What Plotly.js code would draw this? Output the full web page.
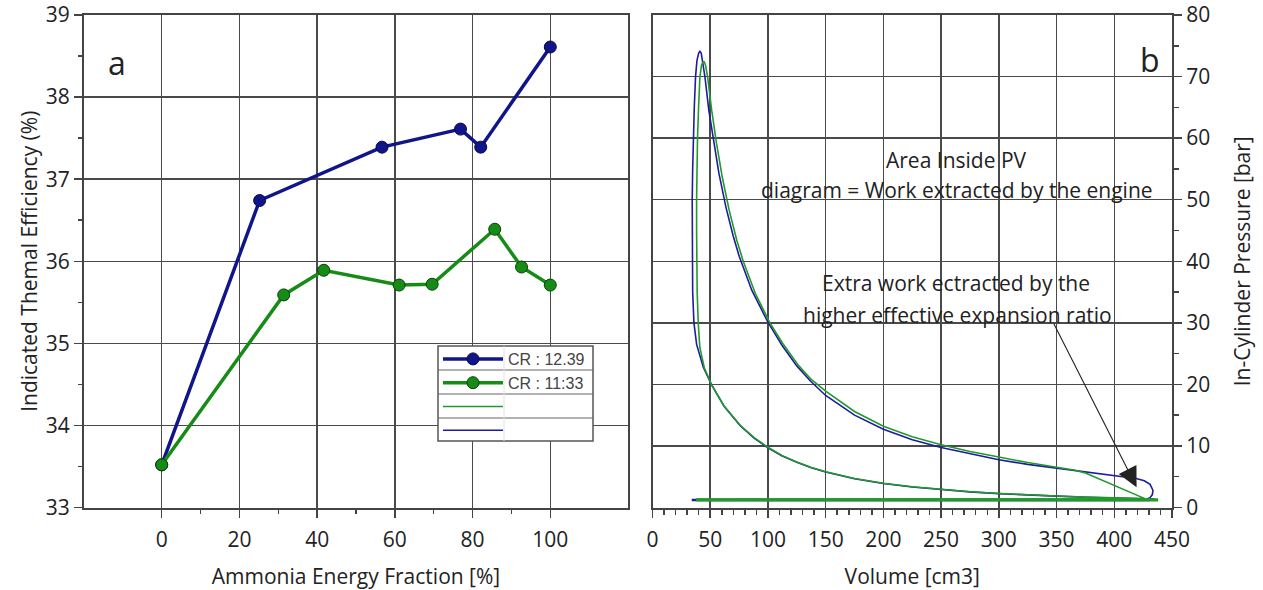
<!DOCTYPE html>
<html><head><meta charset="utf-8">
<script src="https://cdn.plot.ly/plotly-3.0.1.min.js"></script>
<style>html,body{margin:0;padding:0;background:#fff}#chart{width:1263px;height:590px}</style>
</head><body><div id="chart"></div>
<script>
// ---- Panel a: indicated thermal efficiency vs ammonia energy fraction ----
const seriesNames = ['CR : 12.39', 'CR : 11:33'];
const aefBlue = [0, 25.2, 56.7, 76.9, 82.1, 100];
const iteBlue = [33.52, 36.74, 37.39, 37.61, 37.39, 38.61];
const aefGreen = [0, 31.4, 41.7, 61.1, 69.6, 85.7, 92.6, 100];
const iteGreen = [33.52, 35.59, 35.89, 35.71, 35.72, 36.39, 35.93, 35.71];
const aefTicks = [0, 20, 40, 60, 80, 100];

// ---- Panel b: PV diagram (volume cm3, pressure bar) ----
const volBlue = [34, 430, 430, 420, 400, 375, 350, 325, 300, 275, 250, 225, 200, 175, 150, 137, 125, 112, 100, 88, 76, 62, 51, 44, 38.2, 35.9, 34.8, 34.5, 34.3, 34.4, 34.8, 35.3, 36.2, 37.3, 38.5, 40, 41, 42.2, 43.5, 45.4, 48.8, 52.6, 57.5, 63.6, 69.9, 75.1, 86, 100, 112, 125, 137, 150, 175, 200, 225, 250, 275, 300, 325, 350, 379, 399, 419, 426, 431, 433.5, 433, 431, 428, 420, 34];
const presBlue = [1.15, 1.15, 1.39, 1.43, 1.53, 1.67, 1.84, 2.03, 2.26, 2.54, 2.89, 3.33, 3.9, 4.67, 5.75, 6.5, 7.33, 8.4, 9.69, 11.26, 13.27, 16.43, 20, 22.8, 26.5, 30, 35, 40, 45, 50, 55, 60, 65, 70, 72.6, 73.8, 74.1, 73.8, 72.5, 70, 64.5, 59.8, 54.3, 48.8, 44.1, 40.8, 35.3, 30.1, 26.4, 23.0, 20.5, 18.2, 15.0, 12.7, 11.0, 9.75, 8.7, 7.75, 7.0, 6.4, 5.75, 5.25, 4.7, 4.35, 3.75, 2.8, 2.1, 1.6, 1.4, 1.3, 1.3];
const volGreen = [38, 434, 434, 420, 400, 375, 350, 325, 300, 275, 250, 225, 200, 175, 150, 137, 125, 112, 100, 88, 76, 62, 51, 45, 41, 39.6, 38.7, 38.3, 38.2, 38.2, 38.5, 39, 39.9, 41.1, 42.5, 44, 44.8, 46, 47.7, 51.3, 55.5, 60.5, 66.4, 73, 78.6, 89, 101.7, 113, 126, 137, 150, 175, 200, 225, 250, 275, 300, 325, 350, 365, 375, 387, 399, 410, 422, 427, 38];
const presGreen = [1.2, 1.2, 1.4, 1.45, 1.55, 1.69, 1.86, 2.05, 2.28, 2.56, 2.91, 3.36, 3.93, 4.71, 5.8, 6.55, 7.4, 8.47, 9.78, 11.35, 13.35, 16.5, 20, 22.6, 26, 30, 35, 40, 45, 50, 55, 60, 65, 70, 71.9, 72.4, 72.4, 71.8, 70, 64.5, 59.1, 53.6, 48.3, 43.4, 40.0, 34.8, 30, 26.6, 23.2, 20.9, 18.9, 15.6, 13.2, 11.5, 10.2, 9.1, 8.2, 7.3, 6.55, 6.1, 5.6, 4.6, 3.6, 2.7, 1.7, 1.4, 1.35];
const volGreenGas = [38, 438];
const presGreenGas = [1.25, 1.25];

const BLUE = '#10168a', GREEN = '#168c16', BLUE2 = '#1c1ca0', GREEN2 = '#22992a';
const FONT = 'Open Sans, Noto Sans, sans-serif';
const W = 1263, H = 590;
const px = v => v / W, py = v => 1 - v / H;

const traces = [
  {x: aefBlue, y: iteBlue, name: seriesNames[0], mode: 'lines+markers', xaxis: 'x', yaxis: 'y',
   line: {color: BLUE, width: 3.5}, marker: {size: 12, color: BLUE, line: {color: '#0a0a40', width: 1}}, legendrank: 1},
  {x: aefGreen, y: iteGreen, name: seriesNames[1], mode: 'lines+markers', xaxis: 'x', yaxis: 'y',
   line: {color: GREEN, width: 3.5}, marker: {size: 12, color: GREEN, line: {color: '#0a400a', width: 1}}, legendrank: 2},
  {x: volBlue, y: presBlue, name: ' ', mode: 'lines', xaxis: 'x2', yaxis: 'y2',
   line: {color: BLUE2, width: 1.6}, legendrank: 4},
  {x: volGreen, y: presGreen, name: ' ', mode: 'lines', xaxis: 'x2', yaxis: 'y2',
   line: {color: GREEN2, width: 1.6}, legendrank: 3},
  {x: volGreenGas, y: presGreenGas, mode: 'lines', xaxis: 'x2', yaxis: 'y2', showlegend: false,
   line: {color: GREEN2, width: 3.2}}
];

const axCommon = {
  showline: true, linecolor: '#444', linewidth: 2, mirror: true,
  showgrid: true, gridcolor: '#4a4a4a', gridwidth: 1.5, zeroline: false,
  ticks: 'outside', ticklen: 8, tickwidth: 1.5, tickcolor: '#444',
  tickfont: {family: FONT, size: 21, color: '#222'}
};
const titleFont = {family: FONT, size: 21, color: '#222'};

const layout = {
  width: W, height: H, margin: {l: 0, r: 0, t: 0, b: 0, pad: 0},
  paper_bgcolor: '#fff', plot_bgcolor: '#fff', showlegend: true,
  xaxis: Object.assign({}, axCommon, {domain: [px(84), px(628)], range: [-20, 120], tickvals: aefTicks, ticklabelstandoff: 4,
    minor: {tickvals: [10, 30, 50, 70, 90], ticks: 'outside', ticklen: 4, tickcolor: '#444', showgrid: false},
    title: {text: 'Ammonia Energy Fraction [%]', font: titleFont, standoff: 18}}),
  yaxis: Object.assign({}, axCommon, {domain: [py(507.5), py(15)], range: [33, 39], dtick: 1,
    minor: {dtick: 0.5, ticks: 'outside', ticklen: 4, tickcolor: '#444', showgrid: false},
    title: {text: 'Indicated Themal Efficiency (%)', font: titleFont, standoff: 2}}),
  xaxis2: Object.assign({}, axCommon, {anchor: 'y2', domain: [px(652.5), px(1172)], range: [0, 450], dtick: 50, ticklabelstandoff: 4,
    minor: {dtick: 10, ticks: 'outside', ticklen: 5, tickcolor: '#444', showgrid: false},
    title: {text: 'Volume [cm3]', font: titleFont, standoff: 18}}),
  yaxis2: Object.assign({}, axCommon, {anchor: 'x2', side: 'right', domain: [py(507.5), py(15)], range: [0, 80], dtick: 10,
    minor: {dtick: 5, ticks: 'outside', ticklen: 5, tickcolor: '#444', showgrid: false},
    title: {text: 'In-Cylinder Pressure [bar]', font: titleFont, standoff: 26}}),
  legend: {x: px(438), y: py(342), xanchor: 'left', yanchor: 'top', bgcolor: 'rgba(0,0,0,0)', borderwidth: 0,
    font: {family: 'Liberation Sans, Arial, sans-serif', size: 16, color: '#444'}, itemwidth: 60, tracegroupgap: 0},
  shapes: [
    {type: 'rect', xref: 'paper', yref: 'paper', x0: px(438), x1: px(593), y0: py(441), y1: py(346),
     fillcolor: '#fff', line: {color: '#555', width: 1.5}, layer: 'above'},
    {type: 'line', xref: 'paper', yref: 'paper', x0: px(438), x1: px(593), y0: py(370), y1: py(370), line: {color: '#666', width: 1.2}, layer: 'above'},
    {type: 'line', xref: 'paper', yref: 'paper', x0: px(438), x1: px(593), y0: py(394), y1: py(394), line: {color: '#666', width: 1.2}, layer: 'above'},
    {type: 'line', xref: 'paper', yref: 'paper', x0: px(438), x1: px(593), y0: py(418), y1: py(418), line: {color: '#666', width: 1.2}, layer: 'above'},
    {type: 'line', xref: 'paper', yref: 'paper', x0: px(504), x1: px(504), y0: py(441), y1: py(346), line: {color: '#e2e2e2', width: 1}, layer: 'above'}
  ],
  annotations: [
    {xref: 'paper', yref: 'paper', x: px(117), y: py(62), xanchor: 'center', yanchor: 'middle', text: 'a', showarrow: false, font: {family: FONT, size: 32, color: '#222'}},
    {xref: 'paper', yref: 'paper', x: px(1150), y: py(60), xanchor: 'center', yanchor: 'middle', text: 'b', showarrow: false, font: {family: FONT, size: 32, color: '#222'}},
    {xref: 'x2', yref: 'y2', x: 263.7, y: 56.4, text: 'Area Inside PV', showarrow: false, font: {family: FONT, size: 21, color: '#222'}},
    {xref: 'x2', yref: 'y2', x: 263.7, y: 51.5, text: 'diagram = Work extracted by the engine', showarrow: false, font: {family: FONT, size: 21, color: '#222'}},
    {xref: 'x2', yref: 'y2', x: 262.6, y: 36.4, text: 'Extra work ectracted by the', showarrow: false, font: {family: FONT, size: 21, color: '#222'}},
    {xref: 'x2', yref: 'y2', x: 264, y: 31.2, text: 'higher effective expansion ratio', showarrow: false, font: {family: FONT, size: 21, color: '#222'}},
    {xref: 'x2', yref: 'y2', axref: 'x2', ayref: 'y2', x: 419.3, y: 3.3, ax: 347, ay: 30.1, text: '',
     showarrow: true, arrowhead: 2, arrowsize: 3.6, arrowwidth: 1.1, arrowcolor: '#222', standoff: 0}
  ]
};

Plotly.newPlot('chart', traces, layout, {displayModeBar: false, staticPlot: true});
</script></body></html>
